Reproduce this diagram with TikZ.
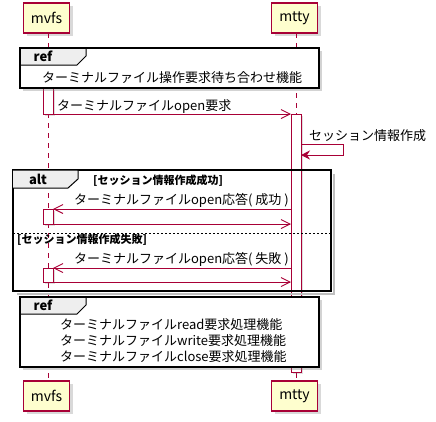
\documentclass[tikz,border=0pt]{standalone}
\usepackage{fontspec}
\setmainfont{Noto Sans CJK JP}
\usetikzlibrary{positioning,arrows.meta,shadows}

\definecolor{umlred}{HTML}{A80036}
\definecolor{umlyellow}{HTML}{FEFECE}
\definecolor{tabgray}{HTML}{EEEEEE}

\tikzset{
  actor/.style={draw=umlred, fill=umlyellow, line width=1.2pt, minimum width=46pt,
    minimum height=30pt, inner sep=0pt, outer sep=0pt, font=\fontsize{14}{16}\selectfont,
    drop shadow={shadow xshift=3pt, shadow yshift=-3pt, opacity=0.3}},
  lifeline/.style={draw=umlred, dash pattern=on 5pt off 5pt, line width=0.8pt},
  actbox/.style={draw=umlred, fill=white, line width=1pt, minimum width=10pt,
    inner sep=0pt, outer sep=0pt,
    drop shadow={shadow xshift=2pt, shadow yshift=-2pt, opacity=0.25}},
  msg/.style={draw=umlred, line width=0.9pt, -{Straight Barb[length=9pt,width=9pt]}},
  selfmsg/.style={draw=umlred, line width=0.9pt, -{Stealth[length=9pt,width=9pt,inset=3pt]}},
  frame/.style={draw=black, line width=1.5pt},
  tabbox/.style={draw=black, fill=tabgray, line width=1pt},
  msgtext/.style={font=\fontsize{13}{15}\selectfont, inner sep=0pt},
  condtext/.style={font=\bfseries\fontsize{11}{13}\selectfont, inner sep=0pt},
  tabtext/.style={font=\bfseries\fontsize{13}{15}\selectfont, inner sep=0pt},
}

\begin{document}
\begin{tikzpicture}[x=1pt,y=-1pt]
\useasboundingbox (0,0) rectangle (436,421);

% participants
\node[actor] (mvfsTop) at (46.5,18) {mvfs};
\node[actor] (mttyTop) at (294.5,18) {mtty};
\node[actor] (mvfsBot) at (46.5,396) {mvfs};
\node[actor] (mttyBot) at (294.5,396) {mtty};

% lifelines
\draw[lifeline] ([xshift=1.5pt]mvfsTop.south) -- ([xshift=1.5pt]mvfsBot.north);
\draw[lifeline] ([xshift=1.5pt]mttyTop.south) -- ([xshift=1.5pt]mttyBot.north);

% activations
\node[actbox, minimum height=26pt] (mvfsAct) at (48,101) {};
\node[actbox, minimum height=258pt] (mttyAct) at (296,243) {};
\node[actbox, minimum height=15pt] (okAct) at (48,216.5) {};
\node[actbox, minimum height=14pt] (ngAct) at (48,275) {};

% open request
\draw[msg] (mvfsAct.south east) -- (mttyAct.north west);
\node[msgtext, anchor=base west] (openReq) at (57,110) {ターミナルファイルopen要求};

% session
\draw[selfmsg] ([yshift=-30pt]mttyAct.north east) -- ++(42,0) -- ++(0,11)
  -- ([yshift=-41pt]mttyAct.north east);
\node[msgtext, anchor=base west] (session) at (309,140) {セッション情報作成};

% alt
\draw[black!25, line width=2pt] (333.5,174) -- (333.5,293.5) -- (17,293.5);
\draw[frame] (13,170) rectangle (331,291);
\draw[tabbox] (13,170) -- (78,170) -- (78,179) -- (68,188) -- (13,188);
\node[tabtext] (altLbl) at (38,179.5) {alt};
\node[condtext, anchor=base west] (condOk) at (93,184) {[セッション情報作成成功]};
\draw[dash pattern=on 2pt off 2pt, line width=0.8pt] (13,233) -- (331,233);
\node[condtext, anchor=base west] (condNg) at (17,243) {[セッション情報作成失敗]};

\draw[msg] (mttyAct.west |- okAct.north) -- (okAct.north east);
\draw[msg] (okAct.south east) -- (mttyAct.west |- okAct.south);
\node[msgtext, anchor=base east] (okRes) at (289,204) {ターミナルファイルopen応答( 成功 )};

\draw[msg] (mttyAct.west |- ngAct.north) -- (ngAct.north east);
\draw[msg] (ngAct.south east) -- (mttyAct.west |- ngAct.south);
\node[msgtext, anchor=base east] (ngRes) at (289,263) {ターミナルファイルopen応答( 失敗 )};

% ref 1
\path[frame, fill=white, drop shadow={shadow xshift=3pt, shadow yshift=-3pt, opacity=0.35}]
  (20,48) rectangle (319,88);
\draw[tabbox] (20,48) -- (86,48) -- (86,56) -- (77,65) -- (20,65) -- cycle;
\draw[frame] (20,48) rectangle (319,88);
\node[tabtext] (refLbl1) at (43,56.5) {ref};
\node[msgtext, anchor=base] (waitRef) at (172,82) {ターミナルファイル操作要求待ち合わせ機能};

% ref 2
\path[frame, fill=white, drop shadow={shadow xshift=3pt, shadow yshift=-3pt, opacity=0.35}]
  (20,297) rectangle (319,367);
\draw[tabbox] (20,297) -- (86,297) -- (86,305) -- (77,314) -- (20,314) -- cycle;
\draw[frame] (20,297) rectangle (319,367);
\node[tabtext] (refLbl2) at (43,305.5) {ref};
\node[msgtext, anchor=base west] (readRef) at (60,329) {ターミナルファイルread要求処理機能};
\node[msgtext, anchor=base west] (writeRef) at (60,345) {ターミナルファイルwrite要求処理機能};
\node[msgtext, anchor=base west] (closeRef) at (60,361) {ターミナルファイルclose要求処理機能};

\end{tikzpicture}
\end{document}
